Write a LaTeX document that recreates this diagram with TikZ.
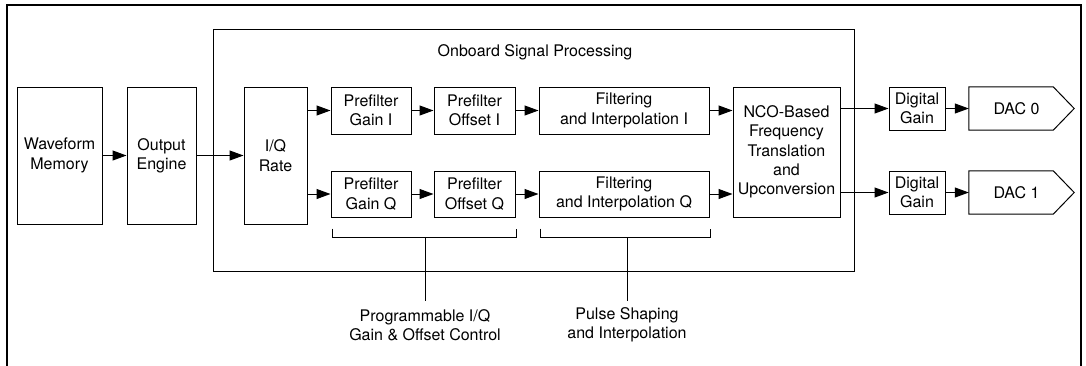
\documentclass[tikz,border=0pt]{standalone}
\usepackage{fontspec}
\setmainfont{TeX Gyre Heros}
\usetikzlibrary{arrows.meta,calc}
\begin{document}
\begin{tikzpicture}[x=1pt,y=-1pt,
  every node/.style={font=\fontsize{16}{19.3}\selectfont, align=center, inner sep=0pt},
  blk/.style={draw, line width=1pt},
  arr/.style={line width=1pt, -{Triangle[length=14pt,width=10pt]}},
  brk/.style={line width=1pt},
]
\useasboundingbox (0,0) rectangle (1086,365);
% outer frame (open at bottom)
\draw[line width=2pt] (7,366) -- (7,5) -- (1081,5) -- (1081,366);
% onboard box
\node[blk, minimum width=641, minimum height=242] (ob) at (533.5,150) {};
\node (obt) at (535,52) {Onboard Signal Processing};
% blocks
\node[blk, minimum width=85, minimum height=137] (wm) at (59.5,155.5) {Waveform\\Memory};
\node[blk, minimum width=69, minimum height=137] (oe) at (161.5,155.5) {Output\\Engine};
\node[blk, minimum width=63, minimum height=137] (iq) at (275.5,155.5) {I/Q\\Rate};
\node[blk, minimum width=80, minimum height=47] (gi) at (371,110.5) {Prefilter\\Gain I};
\node[blk, minimum width=81, minimum height=47] (oi) at (474.5,110.5) {Prefilter\\Offset I};
\node[blk, minimum width=170, minimum height=47] (fi) at (624,110.5) {Filtering\\and Interpolation I};
\node[blk, minimum width=80, minimum height=46] (gq) at (371,194) {Prefilter\\Gain Q};
\node[blk, minimum width=81, minimum height=46] (oq) at (474.5,194) {Prefilter\\Offset Q};
\node[blk, minimum width=170, minimum height=46] (fq) at (624,194) {Filtering\\and Interpolation Q};
\node[blk, minimum width=107, minimum height=130] (nco) at (786.5,152) {NCO-Based\\Frequency\\Translation\\and\\Upconversion};
\node[blk, minimum width=56, minimum height=43] (dg0) at (917,108.5) {Digital\\Gain};
\node[blk, minimum width=56, minimum height=43] (dg1) at (917,192.5) {Digital\\Gain};
% DAC outlines
\node[minimum width=105, minimum height=43] (dac0) at (1021.5,108.5) {};
\node[minimum width=105, minimum height=43] (dac1) at (1021.5,192.5) {};
\draw[line width=1pt] (dac0.north west) -- ($(dac0.north east)+(-21,0)$) -- (dac0.east) -- ($(dac0.south east)+(-21,0)$) -- (dac0.south west) -- cycle;
\draw[line width=1pt] (dac1.north west) -- ($(dac1.north east)+(-21,0)$) -- (dac1.east) -- ($(dac1.south east)+(-21,0)$) -- (dac1.south west) -- cycle;
\node (dac0t) at ($(dac0.center)+(-5,0)$) {DAC 0};
\node (dac1t) at ($(dac1.center)+(-5,0)$) {DAC 1};
% arrows
\draw[arr] (wm.east) -- (oe.west);
\draw[arr] (oe.east) -- (iq.west);
\draw[arr] (gi.west -| iq.east) -- (gi.west);
\draw[arr] (gq.west -| iq.east) -- (gq.west);
\draw[arr] (gi.east) -- (oi.west);
\draw[arr] (gq.east) -- (oq.west);
\draw[arr] (oi.east) -- (fi.west);
\draw[arr] (oq.east) -- (fq.west);
\draw[arr] (fi.east) -- (fi.east -| nco.west);
\draw[arr] (fq.east) -- (fq.east -| nco.west);
\draw[arr] (dg0.west -| nco.east) -- (dg0.west);
\draw[arr] (dg1.west -| nco.east) -- (dg1.west);
\draw[arr] (dg0.east) -- (dac0.west);
\draw[arr] (dg1.east) -- (dac1.west);
% brackets
\coordinate (b1l) at ($(gq.south west)+(2,11)$);
\coordinate (b1r) at ($(oq.south east)+(1,11)$);
\draw[brk] (b1l) -- ++(0,9) -| (b1r);
\coordinate (b2l) at ($(fq.south west)+(2,11)$);
\coordinate (b2r) at ($(fq.south east)+(1,11)$);
\draw[brk] (b2l) -- ++(0,9) -| (b2r);
\node (lab1) at (425,325) {Programmable I/Q\\Gain \& Offset Control};
\node (lab2) at (627,325) {Pulse Shaping\\and Interpolation};
\draw[brk] (lab1.north |- 0,237) -- (lab1.north |- 0,301);
\draw[brk] (lab2.north |- 0,237) -- (lab2.north |- 0,301);
\end{tikzpicture}
\end{document}
